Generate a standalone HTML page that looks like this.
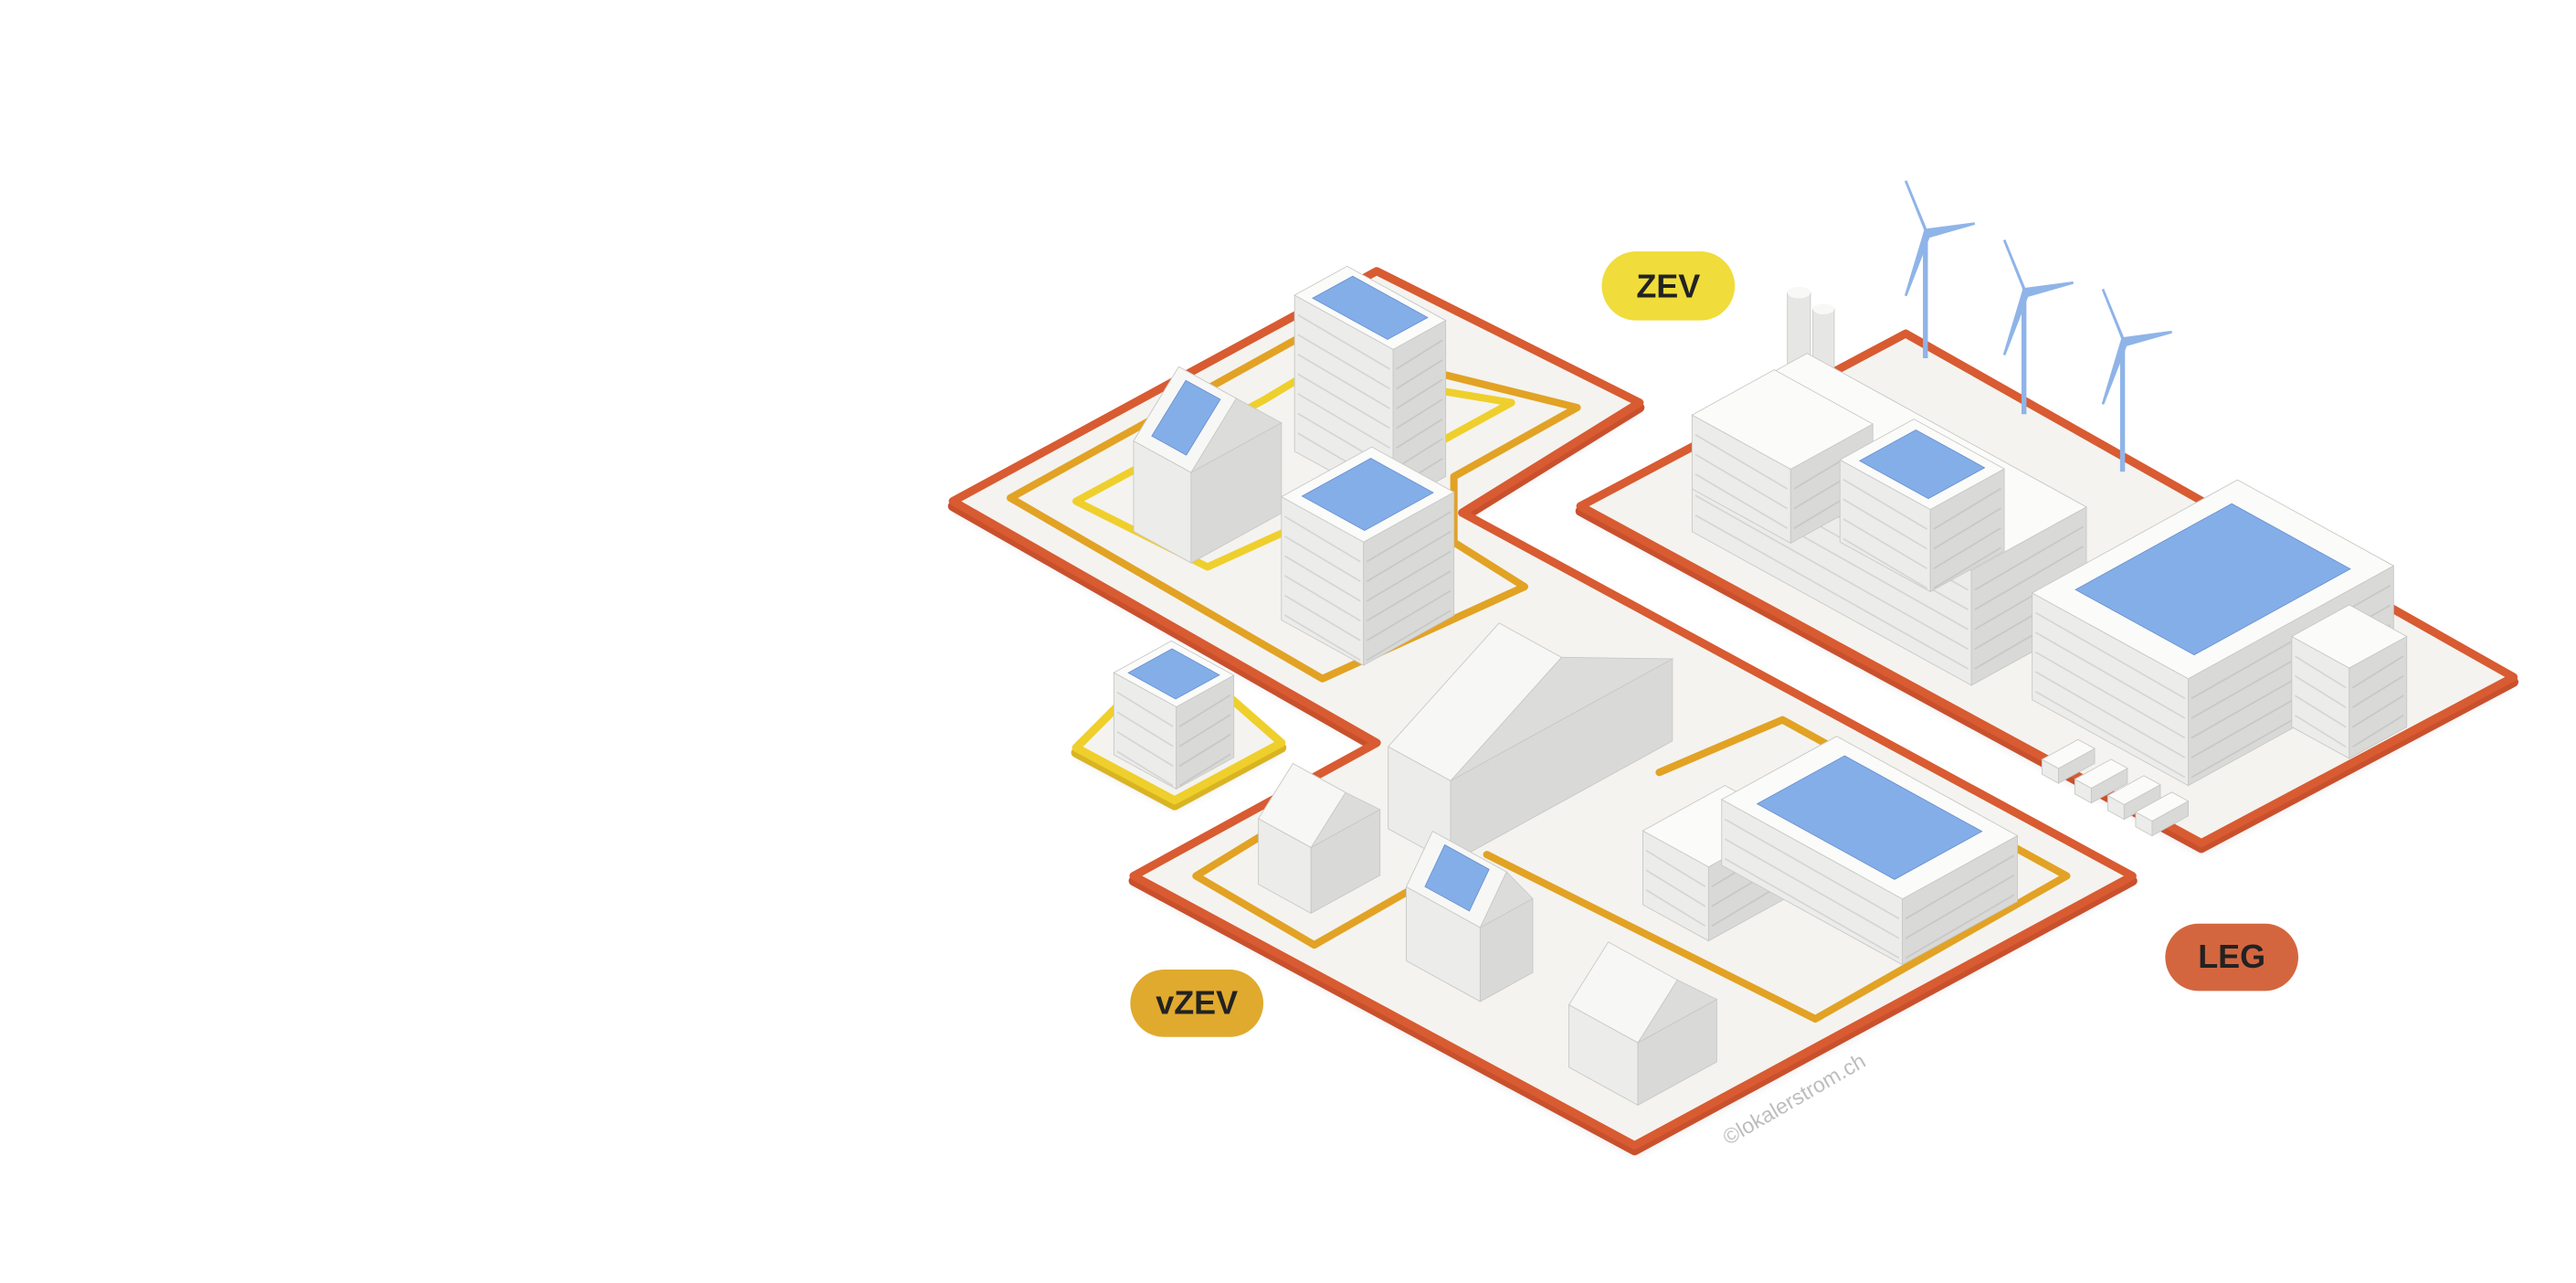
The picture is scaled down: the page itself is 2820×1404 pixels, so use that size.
<!DOCTYPE html>
<html><head><meta charset="utf-8"><style>
html,body{margin:0;padding:0;background:#fff;}
svg{display:block;}
</style></head><body>
<svg id="s" width="2820" height="1404" viewBox="0 0 1568 780.7" xmlns="http://www.w3.org/2000/svg">
<defs>
<filter id="sh" x="-10%" y="-10%" width="120%" height="130%"><feGaussianBlur stdDeviation="3"/></filter>
</defs>
<g fill="#000" opacity="0.12" filter="url(#sh)">
<polygon points="838,170 998,250 890,317 1298,538 995,703 690,538 838,457 580,310"/>
<polygon points="1160,208 1530,417 1340,519 962,313"/>
<polygon points="715,400 780,457 715,492 655,460"/>
</g>
<g stroke-linejoin="round">
<polygon points="838,168 998,248 890,315 1298,536 995,700 690,536 838,455 580,308" fill="#c9502c" stroke="#c9502c" stroke-width="6"/>
<polygon points="838,165 998,245 890,312 1298,533 995,697 690,533 838,452 580,305" fill="#f4f3ef" stroke="#d85b32" stroke-width="5"/>
<polygon points="1160,206 1530,415 1340,516 962,311" fill="#c9502c" stroke="#c9502c" stroke-width="6"/>
<polygon points="1160,203 1530,412 1340,513 962,308" fill="#f4f3ef" stroke="#d85b32" stroke-width="5"/>
<polygon points="715,398 780,455 715,490 655,458" fill="#d9b422" stroke="#d9b422" stroke-width="6"/>
<polygon points="715,395 780,452 715,487 655,455" fill="#f4f3ef" stroke="#efcf2c" stroke-width="5"/>
</g>
<g fill="none" stroke-width="4.5" stroke-linejoin="round" stroke-linecap="round">
<polygon points="615,303 790,206 960,248 885,290 885,330 928,357 805,413" stroke="#e2a224"/>
<polygon points="655,305 770,243 800,225 920,245 860,278 790,320 735,345" stroke="#efcf2c"/>
<polyline points="790,495 728,533 800,575 870,535" stroke="#e2a224"/>
<polyline points="1010,470 1085,438 1258,533 1105,620 905,520" stroke="#e2a224"/>
</g>
<g id="b"></g>
<rect x="975" y="153" width="81" height="42" rx="21" fill="#f0dc3a"/>
<text x="1015.5" y="181" font-family="Liberation Sans, sans-serif" font-size="20" font-weight="bold" fill="#222" text-anchor="middle">ZEV</text>
<rect x="688" y="590" width="81" height="41" rx="20.5" fill="#e0aa2e"/>
<text x="728.5" y="617" font-family="Liberation Sans, sans-serif" font-size="20" font-weight="bold" fill="#222" text-anchor="middle">vZEV</text>
<rect x="1318" y="562" width="81" height="41" rx="20.5" fill="#d4663f"/>
<text x="1358.5" y="589" font-family="Liberation Sans, sans-serif" font-size="20" font-weight="bold" fill="#222" text-anchor="middle">LEG</text>
<text x="1052" y="697" transform="rotate(-30 1052 697)" font-family="Liberation Sans, sans-serif" font-size="13" fill="#bdbdbd">©lokalerstrom.ch</text>
</svg>
<script>
var g=document.getElementById('b'),NS='http://www.w3.org/2000/svg';
function P(pts,f,extra){var p=document.createElementNS(NS,'polygon');p.setAttribute('points',pts.map(function(q){return q[0].toFixed(1)+','+q[1].toFixed(1)}).join(' '));p.setAttribute('fill',f);p.setAttribute('stroke',extra||'#c8c8c6');p.setAttribute('stroke-width','0.5');g.appendChild(p);}
function box(x,y,a,b,h,roof){var k=0.55;
var T0=[x,y],T1=[x+a,y+a*k],T2=[x+a-b,y+a*k+b*k],T3=[x-b,y+b*k];
function d(p){return [p[0],p[1]+h];}
P([T3,T2,d(T2),d(T3)],'#ececea');
P([T2,T1,d(T1),d(T2)],'#d9d9d7');
P([T0,T1,T2,T3],'#fbfbfa');
if(roof){var m=0.12;function L(p,q,t){return [p[0]+(q[0]-p[0])*t,p[1]+(q[1]-p[1])*t];}
var c=[(T0[0]+T2[0])/2,(T0[1]+T2[1])/2];
var r=[T0,T1,T2,T3].map(function(p){return L(p,c,m*2);});
P(r,'#84aee8','#6a92d2');}
for(var i=1;i<h/12;i++){var yy=i*12;var l=document.createElementNS(NS,'line');l.setAttribute('x1',T3[0]+2);l.setAttribute('y1',T3[1]+yy);l.setAttribute('x2',T2[0]-2);l.setAttribute('y2',T2[1]+yy);l.setAttribute('stroke','#d6d6d4');l.setAttribute('stroke-width','1');g.appendChild(l);
var l2=document.createElementNS(NS,'line');l2.setAttribute('x1',T2[0]+2);l2.setAttribute('y1',T2[1]+yy);l2.setAttribute('x2',T1[0]-2);l2.setAttribute('y2',T1[1]+yy);l2.setAttribute('stroke','#c8c8c6');l2.setAttribute('stroke-width','1');g.appendChild(l2);}
}
function gable(x,y,a,b,h,rh,blue){var k=0.55;
var T0=[x,y],T1=[x+a,y+a*k],T2=[x+a-b,y+a*k+b*k],T3=[x-b,y+b*k];
function d(p){return [p[0],p[1]+h];}
P([T3,T2,d(T2),d(T3)],'#ececea');P([T2,T1,d(T1),d(T2)],'#d9d9d7');
var m1=[(T0[0]+T3[0])/2,(T0[1]+T3[1])/2-rh],m2=[(T1[0]+T2[0])/2,(T1[1]+T2[1])/2-rh];
P([T2,T1,m2],'#dcdcda');
P([T3,T2,m2,m1],'#f7f7f6');
if(blue){var c=function(p,q,t){return [p[0]+(q[0]-p[0])*t,p[1]+(q[1]-p[1])*t];};
P([c(T3,T2,0.2),c(T3,T2,0.8),c(m1,m2,0.8),c(m1,m2,0.2)].map(function(p,i){return i<2?[p[0]+(m1[0]-T3[0])*0.15,p[1]+(m1[1]-T3[1])*0.15]:[p[0]-(m1[0]-T3[0])*0.1,p[1]-(m1[1]-T3[1])*0.1];}),'#84aee8','#6a92d2');}
}
function cyl(x,y1,y2,w){var r=document.createElementNS(NS,'rect');r.setAttribute('x',x-w/2);r.setAttribute('y',y1);r.setAttribute('width',w);r.setAttribute('height',y2-y1);r.setAttribute('fill','#e6e6e4');r.setAttribute('stroke','#c8c8c6');r.setAttribute('stroke-width','0.5');g.appendChild(r);
var e=document.createElementNS(NS,'ellipse');e.setAttribute('cx',x);e.setAttribute('cy',y1);e.setAttribute('rx',w/2);e.setAttribute('ry',w/4);e.setAttribute('fill','#f8f8f7');g.appendChild(e);}
function turb(x,hy,by){var s='#8fb4e8';var l=document.createElementNS(NS,'line');l.setAttribute('x1',x);l.setAttribute('y1',hy);l.setAttribute('x2',x);l.setAttribute('y2',by);l.setAttribute('stroke',s);l.setAttribute('stroke-width','3');g.appendChild(l);
[[-12,-32],[30,-6],[-12,38]].forEach(function(v){var p=document.createElementNS(NS,'polygon');p.setAttribute('points',x+','+(hy-2)+' '+(x+v[0])+','+(hy+v[1])+' '+(x+2)+','+(hy+2));p.setAttribute('fill',s);p.setAttribute('stroke',s);p.setAttribute('stroke-width','1.5');g.appendChild(p);});}
cyl(1095,178,245,14);cyl(1110,188,245,13);
box(1100,215,170,70,70,false);
box(1080,225,60,50,45,false);
box(1165,255,55,45,50,true);
turb(1172,142,218);turb(1232,178,252);turb(1292,208,287);
box(1362,292,95,125,65,true);
box(1430,368,35,35,55,false);
[[1265,450],[1285,462],[1305,472],[1322,482]].forEach(function(q){box(q[0],q[1],10,22,9,false);});
box(820,162,60,32,95,true);
gable(745,238,35,55,55,30,true);
box(835,272,50,55,75,true);
box(713,390,38,35,50,true);
gable(980,380,38,135,50,38,false);
box(1050,478,40,50,45,false);
box(1118,448,110,70,40,true);
gable(808,475,32,42,40,22,false);
gable(888,522,45,32,45,25,true);
gable(1003,585,42,48,38,25,false);
</script>
</body></html>
